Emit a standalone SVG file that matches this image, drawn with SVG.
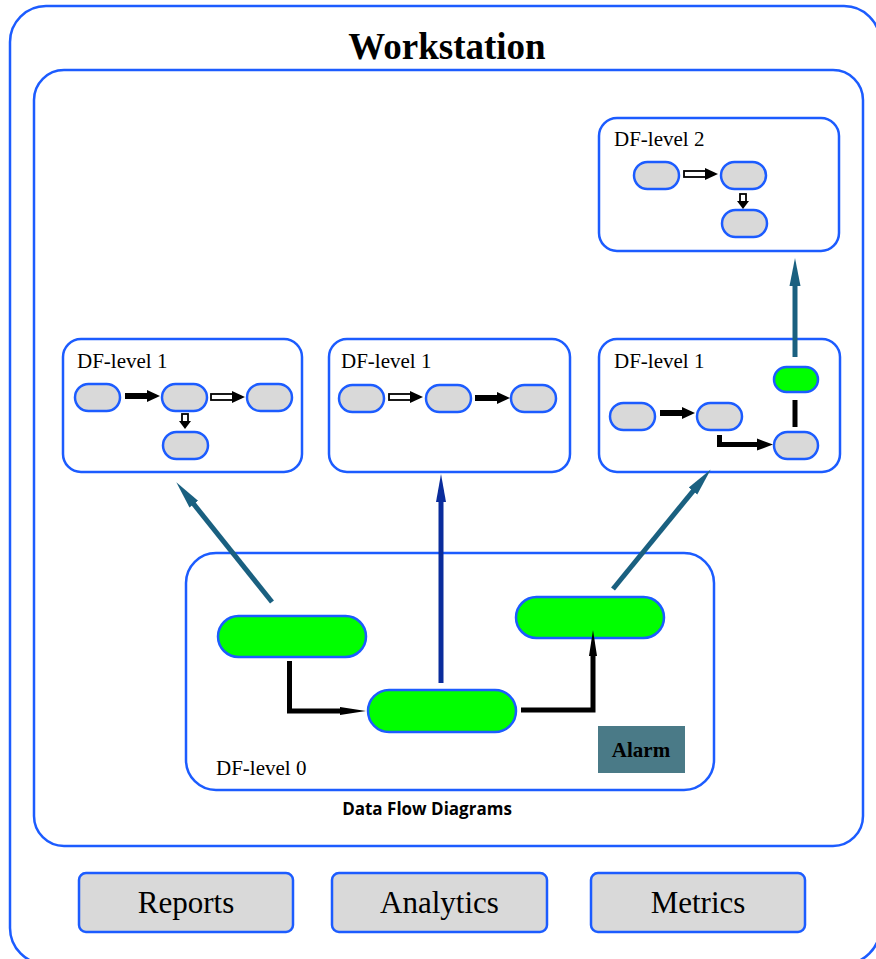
<svg xmlns="http://www.w3.org/2000/svg" xmlns:xlink="http://www.w3.org/1999/xlink" width="876" height="959" viewBox="0 0 876 959">
  <style>
    .frame { fill: #ffffff; stroke: #1c5cff; stroke-width: 2.5; }
    .pill { fill: #d9d9d9; stroke: #1c5cff; stroke-width: 2.5; }
    .pill-on { fill: #00ff00; stroke: #1c5cff; stroke-width: 2.5; }
    .btn { fill: #d9d9d9; stroke: #1c5cff; stroke-width: 2.5; }
    .lbl { font-family: "Liberation Serif", "Times New Roman", serif; font-size: 21px; fill: #000; }
    .btn-txt { font-family: "Liberation Serif", "Times New Roman", serif; font-size: 31px; fill: #000; text-anchor: middle; }
    .title { font-family: "Liberation Serif", "Times New Roman", serif; font-size: 37px; font-weight: bold; text-anchor: middle; }
    .caption { font-family: "Open Sans", "Liberation Sans", sans-serif; font-size: 17px; font-weight: bold; text-anchor: middle; }
    .teal { stroke: #1a6080; stroke-width: 5; fill: none; }
    .flow { stroke: #000; stroke-width: 5; fill: none; }
  </style>
  <defs>
    <!-- small flow arrows used inside the level boxes -->
    <g id="hollowR">
      <rect x="0" y="-3" width="23" height="6" fill="#fff" stroke="#000" stroke-width="1.8"/>
      <polygon points="21,-6 34,0 21,6" fill="#000"/>
    </g>
    <g id="solidR">
      <rect x="0" y="-3" width="24" height="6" fill="#000"/>
      <polygon points="22,-6 35,0 22,6" fill="#000"/>
    </g>
    <g id="hollowD">
      <rect x="-3" y="0" width="6" height="8" fill="#fff" stroke="#000" stroke-width="1.8"/>
      <polygon points="-6,7 6,7 0,15" fill="#000"/>
    </g>
    <marker id="headTeal" markerUnits="userSpaceOnUse" markerWidth="28" markerHeight="14" refX="12" refY="7" orient="auto">
      <path d="M0,1.5 L28,7 L0,12.5 z" fill="#1a6080"/>
    </marker>
    <marker id="headBlue" markerUnits="userSpaceOnUse" markerWidth="28" markerHeight="12" refX="12" refY="6" orient="auto">
      <path d="M0,1 L28,6 L0,11 z" fill="#0a2c9c"/>
    </marker>
  </defs>

  <!-- workstation frame -->
  <g id="workstation">
    <rect class="frame" x="10" y="6" width="870" height="958" rx="36"/>
    <text class="title" x="447" y="59">Workstation</text>
  </g>

  <!-- data flow diagrams container -->
  <g id="dfd">
    <rect class="frame" x="34" y="70" width="829" height="776" rx="30"/>
    <text class="caption" x="427" y="815">Data Flow Diagrams</text>
  </g>

  <!-- level 2 -->
  <g id="df2">
    <rect class="frame" x="599" y="118" width="240" height="133" rx="18"/>
    <text class="lbl" x="614" y="146">DF-level 2</text>
    <rect class="pill" x="634" y="162" width="45" height="27" rx="13.5"/>
    <rect class="pill" x="721" y="162" width="45" height="27" rx="13.5"/>
    <rect class="pill" x="722" y="210" width="45" height="27" rx="13.5"/>
    <use xlink:href="#hollowR" x="684" y="174"/>
    <use xlink:href="#hollowD" x="743" y="194"/>
  </g>

  <!-- level 1, left -->
  <g id="df1a">
    <rect class="frame" x="63" y="339" width="239" height="133" rx="18"/>
    <text class="lbl" x="77" y="368">DF-level 1</text>
    <rect class="pill" x="75" y="384" width="45" height="27" rx="13.5"/>
    <rect class="pill" x="162" y="384" width="45" height="27" rx="13.5"/>
    <rect class="pill" x="247" y="384" width="45" height="27" rx="13.5"/>
    <rect class="pill" x="163" y="432" width="45" height="27" rx="13.5"/>
    <use xlink:href="#solidR" x="125" y="396"/>
    <use xlink:href="#hollowR" x="211" y="397"/>
    <use xlink:href="#hollowD" x="185" y="414"/>
  </g>

  <!-- level 1, middle -->
  <g id="df1b">
    <rect class="frame" x="329" y="339" width="241" height="133" rx="18"/>
    <text class="lbl" x="341" y="368">DF-level 1</text>
    <rect class="pill" x="339" y="385" width="45" height="27" rx="13.5"/>
    <rect class="pill" x="426" y="385" width="45" height="27" rx="13.5"/>
    <rect class="pill" x="511" y="385" width="45" height="27" rx="13.5"/>
    <use xlink:href="#hollowR" x="389" y="397"/>
    <use xlink:href="#solidR" x="475" y="398"/>
  </g>

  <!-- level 1, right -->
  <g id="df1c">
    <rect class="frame" x="599" y="339" width="241" height="133" rx="18"/>
    <text class="lbl" x="614" y="368">DF-level 1</text>
    <rect class="pill-on" x="774" y="367" width="44" height="25" rx="12.5"/>
    <rect class="pill" x="610" y="403" width="45" height="27" rx="13.5"/>
    <rect class="pill" x="697" y="403" width="45" height="27" rx="13.5"/>
    <rect class="pill" x="774" y="432" width="44" height="27" rx="13.5"/>
    <use xlink:href="#solidR" x="660" y="413"/>
    <path class="flow" d="M795,400 V427" stroke-width="4"/>
    <path class="flow" d="M719.5,435 V444.5 H760"/>
    <polygon points="757,438.5 773,444.5 757,450.5" fill="#000"/>
  </g>

  <!-- level 0 -->
  <g id="df0">
    <rect class="frame" x="186" y="553" width="528" height="237" rx="30"/>
    <text class="lbl" x="216" y="775">DF-level 0</text>
    <rect class="pill-on" x="218" y="616" width="148" height="41" rx="20.5"/>
    <rect class="pill-on" x="368" y="690" width="148" height="42" rx="21"/>
    <rect class="pill-on" x="516" y="597" width="148" height="41" rx="20.5"/>
    <g id="alarm">
      <rect x="598" y="726" width="87" height="47" fill="#4a7a87"/>
      <text x="641" y="757" font-family="Liberation Serif, Times New Roman, serif" font-size="21" font-weight="bold" text-anchor="middle">Alarm</text>
    </g>
  </g>

  <!-- bottom tools -->
  <g id="reports">
    <rect class="btn" x="79" y="873" width="214" height="59" rx="7"/>
    <text class="btn-txt" x="186" y="913">Reports</text>
  </g>
  <g id="analytics">
    <rect class="btn" x="332" y="873" width="215" height="59" rx="7"/>
    <text class="btn-txt" x="439.5" y="913">Analytics</text>
  </g>
  <g id="metrics">
    <rect class="btn" x="591" y="873" width="214" height="59" rx="7"/>
    <text class="btn-txt" x="698" y="913">Metrics</text>
  </g>

  <!-- connectors -->
  <g id="connectors">
    <line class="teal" x1="272" y1="602" x2="186.3" y2="494.8" marker-end="url(#headTeal)"/>
    <line x1="441" y1="683" x2="441" y2="490" stroke="#0a2c9c" stroke-width="5" marker-end="url(#headBlue)"/>
    <line class="teal" x1="613" y1="589" x2="700.6" y2="481.8" marker-end="url(#headTeal)"/>
    <line class="teal" x1="795" y1="357" x2="795" y2="274" marker-end="url(#headTeal)"/>
    <path class="flow" d="M289.5,661 V711 H345"/>
    <polygon points="340,707 366,711 340,715" fill="#000"/>
    <path class="flow" d="M521,710 H593 V652"/>
    <polygon points="589,656 593,630 597,656" fill="#000"/>
  </g>
</svg>
